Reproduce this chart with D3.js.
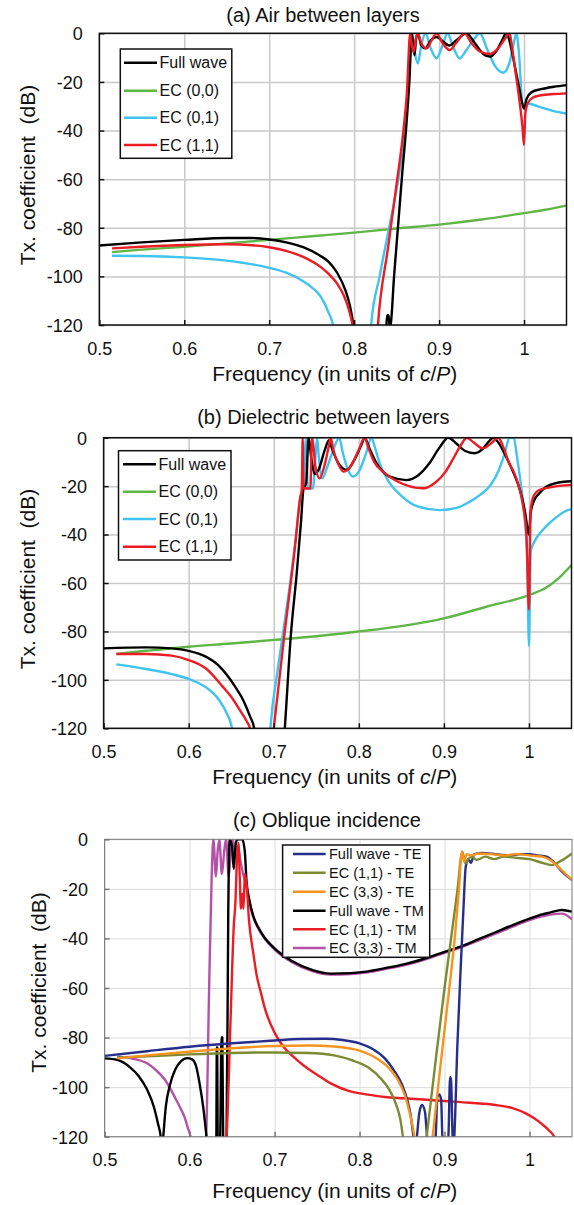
<!DOCTYPE html>
<html>
<head>
<meta charset="utf-8">
<script src="https://cdn.jsdelivr.net/npm/d3@7"></script>
<style>
  body { margin: 0; background: #fff; }
  text { font-family: "Liberation Sans", Arial, sans-serif; fill: #111; }
</style>
</head>
<body>
<svg id="chart" width="574" height="1205"></svg>
<script>
// tick values, same on all three panels
const xTicks = [0.5, 0.6, 0.7, 0.8, 0.9, 1];
const yTicks = [0, -20, -40, -60, -80, -100, -120];

const legendAB = ["Full wave", "EC (0,0)", "EC (0,1)", "EC (1,1)"];
const legendC = ["Full wave - TE", "EC (1,1) - TE", "EC (3,3) - TE", "Full wave - TM", "EC (1,1) - TM", "EC (3,3) - TM"];

// (a) air between layers  [freq, dB]  (values under -120 fall outside the clip)
const airFull = [[0.5,-87.3],[0.55,-86],[0.6,-85],[0.65,-84.2],[0.68,-84.2],[0.7,-84.8],[0.72,-86],[0.74,-88],[0.76,-91.5],[0.77,-94],[0.78,-98.5],[0.79,-106],[0.795,-112],[0.8,-122],[0.805,-135],
  [0.836,-135],[0.838,-120],[0.839,-116],[0.8405,-116],[0.842,-121],[0.843,-120],[0.847,-100],[0.852,-78],[0.857,-56],[0.861,-40],[0.865,-20],[0.868,0],
  [0.871,-9],[0.873,-2],[0.875,0],[0.879,-5],[0.8836,-6.2],[0.89,-3],[0.897,-1.5],[0.905,-3.5],[0.912,-5],[0.92,-3],[0.932,0],[0.942,-4],[0.952,-8.5],[0.96,-9.6],[0.968,-7],[0.974,-3],[0.979,0],[0.982,-2],[0.986,-8],[0.99,-15],[0.994,-22],[0.998,-29],[1.0,-31],[1.003,-27],[1.009,-24.2],[1.02,-23],[1.035,-22],[1.05,-21.3]];
const airEc00 = [[0.515,-90],[0.55,-89],[0.6,-87.8],[0.65,-86.4],[0.7,-85],[0.75,-83.5],[0.8,-82],[0.85,-80.3],[0.9,-78.7],[0.95,-76.6],[1.0,-74],[1.025,-72.6],[1.05,-70.9]];
const airEc01 = [[0.515,-91.5],[0.55,-91.6],[0.6,-92.2],[0.65,-93.5],[0.7,-96.5],[0.72,-98.5],[0.74,-102],[0.75,-104.5],[0.76,-108],[0.765,-111],[0.77,-115],[0.775,-120],[0.778,-130],
  [0.818,-130],[0.82,-120],[0.83,-100],[0.84,-82],[0.85,-64],[0.857,-48],[0.862,-30],[0.865,-15],[0.868,0],
  [0.871,-7],[0.875,-12.4],[0.879,-5],[0.884,0],[0.89,-6],[0.897,-10.3],[0.904,-5],[0.91,0],[0.916,-5],[0.924,-10.3],[0.932,-7],[0.94,-3],[0.948,0],[0.956,-6],[0.965,-13],[0.9755,-16.2],[0.983,-12],[0.988,-4],[0.991,0],[0.994,-8],[0.998,-28.8],[1.0,-30],[1.005,-29],[1.02,-30.5],[1.035,-32],[1.05,-33]];
const airEc11 = [[0.515,-88.5],[0.55,-87.8],[0.6,-87.1],[0.65,-86.8],[0.68,-87.2],[0.7,-88],[0.72,-89.5],[0.74,-92],[0.76,-96],[0.77,-99],[0.78,-103],[0.788,-108],[0.794,-114],[0.798,-120],[0.801,-130],
  [0.826,-130],[0.828,-120],[0.84,-88],[0.85,-62],[0.858,-40],[0.862,-25],[0.866,0],
  [0.868,-5],[0.87,-7.6],[0.873,-2],[0.875,0],[0.879,-4],[0.8853,-6.2],[0.891,-3],[0.897,0],[0.904,-4],[0.9123,-6.9],[0.92,-4],[0.93,0],[0.938,-4],[0.948,-7.5],[0.96,-8.5],[0.97,-6],[0.978,-2],[0.983,0],[0.986,-6],[0.99,-16],[0.994,-26],[0.998,-38],[1.0,-46],[1.0015,-33],[1.004,-29],[1.01,-26.5],[1.02,-25.5],[1.035,-25],[1.05,-24.7]];

// (b) dielectric between layers
const dieFull = [[0.5,-87],[0.55,-86.6],[0.58,-87],[0.6,-88],[0.62,-90.4],[0.635,-94],[0.645,-98],[0.655,-103],[0.665,-109],[0.672,-115],[0.677,-120],[0.68,-130],
  [0.711,-130],[0.713,-120],[0.72,-82],[0.727,-56],[0.732,-35],[0.735,-21],[0.738,-19],[0.741,0],[0.744,-8],[0.748,-15],[0.753,-13],[0.76,-5],[0.765,-1],[0.768,-4],[0.775,-10],[0.7857,-13.3],[0.795,-9],[0.803,-3],[0.807,0],[0.812,-4],[0.82,-10],[0.8365,-16.1],[0.856,-17.5],[0.87,-15.5],[0.882,-11],[0.895,-4],[0.905,0],[0.915,-2.5],[0.925,-5.5],[0.936,-6.4],[0.946,-4.5],[0.953,-1.5],[0.958,0],[0.964,-2],[0.972,-7],[0.98,-13],[0.987,-19],[0.992,-25],[0.996,-32],[0.9985,-38],[1.0,-40],[1.002,-31],[1.006,-26],[1.012,-23],[1.0207,-20.2],[1.041,-18.2],[1.05,-18]];
const dieEc00 = [[0.515,-89.3],[0.55,-88],[0.6,-86.3],[0.65,-85],[0.7,-83.5],[0.75,-82],[0.8,-80],[0.85,-77.8],[0.9,-74.6],[0.95,-69.8],[1.0,-65],[1.02,-62],[1.035,-58],[1.05,-52.6]];
const dieEc01 = [[0.515,-93.6],[0.55,-95.5],[0.58,-97.6],[0.6,-99.6],[0.62,-103],[0.635,-108],[0.645,-114],[0.651,-120],[0.654,-130],
  [0.694,-130],[0.696,-120],[0.705,-95],[0.712,-78],[0.72,-58],[0.727,-38],[0.731,-25],[0.735,-20],[0.738,0],[0.74,-21],[0.746,-21],[0.749,-8],[0.751,0],[0.753,-8],[0.757,-16.8],[0.763,-12],[0.77,-5],[0.777,0],[0.781,-6],[0.787,-13],[0.793,-16],[0.8,-14],[0.808,-7],[0.815,0],[0.818,-3],[0.825,-11],[0.835,-18],[0.85,-24],[0.87,-28.5],[0.8953,-29.9],[0.915,-29],[0.93,-26.5],[0.943,-23.5],[0.955,-19.5],[0.965,-13],[0.972,-6],[0.977,0],[0.982,0],[0.986,-8],[0.99,-18],[0.994,-30],[0.998,-50],[1.0,-86],[1.002,-47],[1.007,-42.5],[1.0128,-39.5],[1.025,-35],[1.0457,-29.9],[1.05,-29.5]];
const dieEc11 = [[0.515,-89.3],[0.55,-89.3],[0.58,-90],[0.6,-91.8],[0.62,-95.2],[0.64,-102.8],[0.65,-107],[0.66,-112.4],[0.668,-117],[0.672,-120],[0.675,-130],
  [0.697,-130],[0.7,-120],[0.713,-80],[0.725,-45],[0.731,-25],[0.733,-21],[0.734,0],[0.735,-21],[0.743,-21],[0.745,0],[0.7465,-3],[0.749,-12],[0.754,-16.8],[0.76,-11],[0.765,-3],[0.767,0],[0.77,-5],[0.776,-11],[0.782,-14],[0.79,-12],[0.8,-5],[0.807,0],[0.811,-4],[0.818,-10],[0.83,-14.5],[0.845,-18],[0.8757,-20.9],[0.89,-18.5],[0.902,-14],[0.912,-8],[0.92,-3],[0.927,0],[0.935,-2],[0.946,-4.4],[0.955,-2.5],[0.964,0],[0.97,-4],[0.976,-10],[0.982,-14],[0.988,-20],[0.993,-28],[0.997,-40],[1.0,-71],[1.002,-30],[1.005,-24.5],[1.012,-21.6],[1.025,-20.5],[1.05,-19.5]];

// (c) oblique incidence
const teFull = [[0.5,-87.4],[0.55,-85.5],[0.6,-83.7],[0.65,-82.3],[0.7,-81.2],[0.73,-80.6],[0.76,-80.5],[0.78,-81],[0.8,-82.3],[0.815,-84.5],[0.83,-88.5],[0.84,-93],[0.85,-99],[0.856,-105],[0.86,-111],[0.8635,-120],[0.866,-125],
  [0.8675,-120],[0.8705,-110],[0.8735,-107.2],[0.877,-110],[0.8795,-120],[0.882,-125],[0.8895,-120],[0.8915,-104],[0.8938,-103],[0.896,-105],[0.8975,-120],[0.9,-125],[0.9045,-120],[0.9065,-96],[0.9075,-96],[0.9095,-120],[0.9105,-124],[0.9115,-120],[0.915,-84],[0.919,-52],[0.922,-30],[0.925,-11],[0.928,-8],[0.931,-9.5],[0.935,-6],[0.945,-5.5],[0.96,-6],[0.975,-6.5],[0.99,-6],[1.0,-6],[1.01,-6.5],[1.02,-7],[1.028,-9],[1.038,-13],[1.05,-16.4]];
const teEc11 = [[0.515,-88],[0.55,-87.6],[0.6,-86.8],[0.65,-86.2],[0.7,-86],[0.74,-86.2],[0.77,-87.2],[0.79,-89],[0.81,-92],[0.825,-96.5],[0.835,-101],[0.843,-107],[0.848,-113],[0.851,-120],[0.853,-126],
  [0.877,-126],[0.879,-120],[0.89,-88],[0.9,-60],[0.91,-34],[0.916,-18],[0.919,-8],[0.921,-5],[0.9245,-9.7],[0.928,-8],[0.932,-7],[0.938,-8.3],[0.948,-7],[0.958,-8],[0.97,-7],[0.985,-7.5],[1.0,-8],[1.015,-9.5],[1.026,-10.4],[1.038,-8.5],[1.05,-5.7]];
const teEc33 = [[0.515,-88.4],[0.55,-87.2],[0.6,-85.7],[0.65,-84.3],[0.7,-83.4],[0.74,-83.2],[0.77,-83.6],[0.8,-85.3],[0.82,-88.4],[0.835,-92.5],[0.845,-97],[0.853,-103],[0.858,-109],[0.862,-115],[0.8645,-120],[0.867,-126],
  [0.884,-126],[0.886,-120],[0.895,-92],[0.905,-62],[0.912,-40],[0.917,-20],[0.9205,-5],[0.923,-9],[0.926,-6],[0.932,-6.5],[0.94,-5.7],[0.955,-6],[0.97,-6.5],[0.985,-6],[1.0,-6.5],[1.015,-7],[1.025,-8.5],[1.035,-11.5],[1.05,-16.4]];
const tmFull = [[0.5,-88.4],[0.515,-89],[0.53,-92],[0.54,-95.5],[0.55,-101],[0.558,-108],[0.563,-115],[0.566,-120],[0.5675,-126],[0.569,-120],[0.572,-108],[0.577,-99],[0.583,-93],[0.59,-89.5],[0.597,-88.3],[0.603,-88.8],[0.608,-92],[0.612,-99],[0.616,-108],[0.619,-117],[0.6205,-122],[0.622,-126],
  [0.63,-126],[0.6315,-120],[0.632,-84],[0.6325,-84],[0.633,-120],[0.6345,-126],[0.636,-120],[0.6375,-80],[0.6385,-80],[0.6395,-120],[0.641,-126],[0.6435,-120],[0.6455,-30],[0.647,0],[0.65,-3],[0.652,-12],[0.654,-3],[0.656,0],[0.662,0],[0.665,-5],[0.667,-17],[0.67,-24],[0.675,-31],[0.68,-35],[0.688,-39.5],[0.7,-44],[0.72,-49],[0.745,-52.8],[0.766,-54.2],[0.79,-54],[0.81,-53.3],[0.83,-52],[0.852,-50.5],[0.875,-48.3],[0.895,-46],[0.917,-43.5],[0.938,-40.6],[0.96,-37.5],[0.981,-34.5],[1.0,-32],[1.015,-30.3],[1.025,-29.5],[1.038,-28.5],[1.05,-29.2]];
const tmEc11 = [[0.641,-126],[0.6435,-120],[0.648,-75],[0.652,-35],[0.654,-25],[0.6555,-10],[0.6575,-1.5],[0.659,-15],[0.6605,-28],[0.662,-22],[0.6635,-28],[0.665,-14],[0.667,-18],[0.67,-33],[0.675,-46],[0.679,-55],[0.684,-62],[0.688,-67.5],[0.7,-78],[0.71,-83.5],[0.722,-87.7],[0.735,-91.5],[0.75,-95],[0.766,-98.5],[0.787,-101.5],[0.81,-103],[0.83,-104],[0.852,-104.5],[0.875,-105],[0.9,-105.6],[0.93,-106.3],[0.96,-107.2],[0.98,-108.5],[0.995,-110.5],[1.005,-112.5],[1.015,-115],[1.023,-117.5],[1.029,-120],[1.033,-125]];
const tmEc33 = [[0.515,-87.7],[0.53,-88.3],[0.55,-90.4],[0.56,-93],[0.571,-97],[0.578,-101],[0.584,-105],[0.59,-109],[0.595,-113],[0.598,-116.5],[0.601,-120],[0.603,-126],
  [0.618,-126],[0.6195,-120],[0.623,-60],[0.626,-15],[0.628,0],[0.631,-15],[0.633,-5],[0.635,0],[0.638,-14],[0.641,-4],[0.643,0],[0.646,-15],[0.649,-3],[0.651,0],[0.654,-6],[0.657,-3],[0.66,-9],[0.663,-14],[0.667,-19],[0.67,-24.5],[0.675,-31.5],[0.68,-35.5],[0.688,-40],[0.7,-44.5],[0.72,-49.5],[0.745,-53.3],[0.766,-54.6],[0.79,-54.4],[0.81,-53.7],[0.83,-52.4],[0.852,-50.9],[0.875,-48.7],[0.895,-46.4],[0.917,-43.9],[0.938,-41.1],[0.96,-38.1],[0.981,-35.1],[1.0,-32.6],[1.015,-31.1],[1.025,-30.4],[1.038,-30],[1.05,-32.3]];

const svg = d3.select("#chart");

function drawPanel(p) {
  const x = d3.scaleLinear().domain([0.5, 1.05]).range([p.left, p.right]);
  const y = d3.scaleLinear().domain([-120, 0]).range([p.bottom, p.top]);
  const g = svg.append("g");

  // grid
  g.append("g")
    .attr("transform", `translate(0,${p.bottom})`)
    .call(d3.axisBottom(x).tickValues(xTicks).tickSize(-(p.bottom - p.top)).tickFormat(""))
    .call(s => s.select(".domain").remove())
    .selectAll("line").attr("stroke", p.grid).attr("stroke-width", p.gridW);
  g.append("g")
    .attr("transform", `translate(${p.left},0)`)
    .call(d3.axisLeft(y).tickValues(yTicks).tickSize(-(p.right - p.left)).tickFormat(""))
    .call(s => s.select(".domain").remove())
    .selectAll("line").attr("stroke", p.grid).attr("stroke-width", p.gridW);

  // curves
  g.append("clipPath").attr("id", "clip" + p.id)
    .append("rect")
    .attr("x", p.left).attr("y", p.top)
    .attr("width", p.right - p.left).attr("height", p.bottom - p.top);

  const line = d3.line()
    .x(d => x(d[0]))
    .y(d => y(d[1]))
    .curve(d3.curveMonotoneX);

  const curves = g.append("g").attr("clip-path", `url(#clip${p.id})`);
  p.series.forEach(s => {
    curves.append("path")
      .datum(s.data)
      .attr("d", line)
      .attr("fill", "none")
      .attr("stroke", s.color)
      .attr("stroke-width", 2.4)
      .attr("stroke-linejoin", "round");
  });

  // frame + inward ticks
  g.append("rect")
    .attr("x", p.left).attr("y", p.top)
    .attr("width", p.right - p.left).attr("height", p.bottom - p.top)
    .attr("fill", "none").attr("stroke", p.frame).attr("stroke-width", p.frameW);

  const xa = g.append("g")
    .attr("transform", `translate(0,${p.bottom})`)
    .call(d3.axisBottom(x).tickValues(xTicks).tickSize(-5).tickFormat(d3.format("")));
  xa.select(".domain").remove();
  xa.selectAll("line").attr("stroke", p.frame).attr("stroke-width", 1.5);
  xa.selectAll("text").attr("y", 29.5).attr("dy", null)
    .style("font-size", "18px").attr("fill", "#111");

  const ya = g.append("g")
    .attr("transform", `translate(${p.left},0)`)
    .call(d3.axisLeft(y).tickValues(yTicks).tickSize(-5).tickFormat(d => String(d)));
  ya.select(".domain").remove();
  ya.selectAll("line").attr("stroke", p.frame).attr("stroke-width", 1.5);
  ya.selectAll("text").attr("x", -16.5).attr("dy", "0.35em")
    .style("font-size", "18px").attr("fill", "#111");

  // titles
  g.append("text")
    .attr("x", p.titleX).attr("y", p.titleY)
    .attr("text-anchor", "middle")
    .style("font-size", "20px")
    .text(p.title);

  const xl = g.append("text")
    .attr("x", 334.8).attr("y", p.xLabelY)
    .attr("text-anchor", "middle")
    .style("font-size", "21px");
  xl.append("tspan").text("Frequency (in units of ");
  xl.append("tspan").style("font-style", "italic").text("c");
  xl.append("tspan").text("/");
  xl.append("tspan").style("font-style", "italic").text("P");
  xl.append("tspan").text(")");

  g.append("text")
    .attr("transform", `translate(${p.yLabelX},${p.yLabelY}) rotate(-90)`)
    .attr("text-anchor", "middle")
    .style("font-size", "21px")
    .style("white-space", "pre")
    .text("Tx. coefficient  (dB)");

  // legend
  const L = p.legend;
  g.append("rect")
    .attr("x", L.x0).attr("y", L.y0)
    .attr("width", L.x1 - L.x0).attr("height", L.y1 - L.y0)
    .attr("fill", "#fff").attr("stroke", "#111").attr("stroke-width", 1.5);
  p.series.slice().sort((a, b) => a.order - b.order).forEach((s, i) => {
    const cy = L.rows[i];
    g.append("line")
      .attr("x1", L.lx0).attr("x2", L.lx1)
      .attr("y1", cy).attr("y2", cy)
      .attr("stroke", s.color).attr("stroke-width", 2.6);
    g.append("text")
      .attr("x", L.tx).attr("y", cy + L.fs * 0.36)
      .style("font-size", L.fs + "px")
      .text(p.labels[i]);
  });
}

drawPanel({
  id: "a", left: 99.3, right: 566.5, top: 33.3, bottom: 325,
  grid: "#c9c9c9", gridW: 1.5, frame: "#111", frameW: 1.5,
  title: "(a) Air between layers", titleX: 323, titleY: 22,
  xLabelY: 381, yLabelX: 35, yLabelY: 175,
  labels: legendAB,
  legend: { x0: 120.3, x1: 231.8, y0: 49, y1: 158.3, lx0: 124, lx1: 157, tx: 159.5, fs: 16, rows: [62.7, 90.7, 117.7, 145] },
  series: [
    { data: airEc00, color: "#5fb646", order: 1 },
    { data: airEc01, color: "#3fc3f0", order: 2 },
    { data: airFull, color: "#000000", order: 0 },
    { data: airEc11, color: "#ec1c24", order: 3 }
  ]
});

drawPanel({
  id: "b", left: 103.6, right: 571.5, top: 437.7, bottom: 728.3,
  grid: "#c9c9c9", gridW: 1.5, frame: "#111", frameW: 1.5,
  title: "(b) Dielectric between layers", titleX: 323.3, titleY: 424,
  xLabelY: 784, yLabelX: 35, yLabelY: 579,
  labels: legendAB,
  legend: { x0: 118.5, x1: 231, y0: 450.7, y1: 560, lx0: 123, lx1: 156, tx: 158.5, fs: 16, rows: [464.3, 491.7, 519, 546.7] },
  series: [
    { data: dieEc00, color: "#5fb646", order: 1 },
    { data: dieEc01, color: "#3fc3f0", order: 2 },
    { data: dieFull, color: "#000000", order: 0 },
    { data: dieEc11, color: "#ec1c24", order: 3 }
  ]
});

drawPanel({
  id: "c", left: 104.6, right: 572, top: 839.3, bottom: 1136.7,
  grid: "#dcdcdc", gridW: 1, frame: "#777", frameW: 1,
  title: "(c) Oblique incidence", titleX: 327, titleY: 827,
  xLabelY: 1197.5, yLabelX: 46, yLabelY: 982.5,
  labels: legendC,
  legend: { x0: 282.6, x1: 429.7, y0: 845, y1: 957.3, lx0: 293, lx1: 325.6, tx: 329, fs: 14.5, rows: [854, 872.7, 891.7, 910.7, 929.3, 948] },
  series: [
    { data: tmEc33, color: "#b551a8", order: 5 },
    { data: tmFull, color: "#000000", order: 3 },
    { data: tmEc11, color: "#ec1c24", order: 4 },
    { data: teFull, color: "#262e8c", order: 0 },
    { data: teEc11, color: "#7b8a33", order: 1 },
    { data: teEc33, color: "#f7941d", order: 2 }
  ]
});
</script>
</body>
</html>
